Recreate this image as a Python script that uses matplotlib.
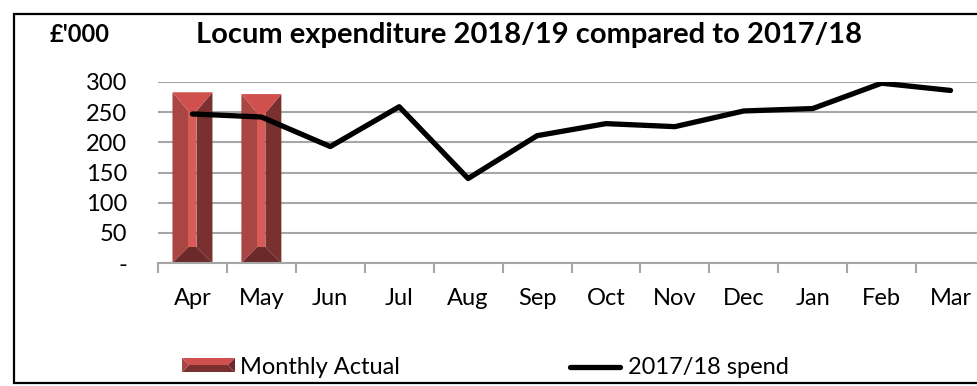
import matplotlib
matplotlib.use("Agg")
import matplotlib.pyplot as plt
from matplotlib.patches import Polygon, Rectangle
import numpy as np

plt.rcParams['font.family'] = ['Lato', 'DejaVu Sans']

months = ['Apr', 'May', 'Jun', 'Jul', 'Aug', 'Sep', 'Oct', 'Nov', 'Dec', 'Jan', 'Feb', 'Mar']
actual_1819 = [283, 280]
spend_1718 = [247, 242, 193, 259, 140, 211, 231, 226, 252, 256, 298, 286]
yticks = [0, 50, 100, 150, 200, 250, 300]
ytick_labels = ['-', '50', '100', '150', '200', '250', '300']

# bevel colours for the "Monthly Actual" bars
TOP = '#D0504E'
LEFT = '#A94543'
RIGHT = '#7A302F'
BOTTOM = '#6B2A29'
FACE = '#D85B58'
GRID = '#A6A6A6'
FS = 17

W, H = 977, 386
fig = plt.figure(figsize=(W / 100, H / 100), dpi=100)

# main plot area (runs past the right edge of the image)
ax = fig.add_axes([158 / W, (H - 263) / H, (985 - 158) / W, 181 / H])
ax.set_xlim(-0.5, 11.5)
ax.set_ylim(0, 300)
for s in ['left', 'right', 'top']:
    ax.spines[s].set_visible(False)
ax.spines['bottom'].set_color(GRID)
ax.spines['bottom'].set_linewidth(1.5)

ax.set_yticks(yticks)
ax.set_yticklabels(ytick_labels)
ax.yaxis.grid(True, color=GRID, linewidth=1.5)
ax.set_axisbelow(True)
ax.tick_params(axis='y', length=0, pad=22, labelsize=FS)

ax.set_xticks(np.arange(len(months)))
ax.set_xticklabels(months)
ax.set_xticks(np.arange(-0.5, len(months), 1.0), minor=True)
ax.tick_params(axis='x', which='major', length=0, pad=18, labelsize=FS)
ax.tick_params(axis='x', which='minor', length=7, width=1.5, color=GRID, direction='out')

# beveled bars
bw = 0.58
bx = 0.232       # side bevel width in x units
bt = 31.5        # top bevel depth in y units
bb = 26.5        # bottom bevel depth in y units
for i, v in enumerate(actual_1819):
    x0, x1 = i - bw / 2, i + bw / 2
    faces = [
        ([(x0, 0), (x0, v), (x0 + bx, v - bt), (x0 + bx, bb)], LEFT),
        ([(x1, 0), (x1, v), (x1 - bx, v - bt), (x1 - bx, bb)], RIGHT),
        ([(x0, 0), (x1, 0), (x1 - bx, bb), (x0 + bx, bb)], BOTTOM),
        ([(x0, v), (x1, v), (x1 - bx, v - bt), (x0 + bx, v - bt)], TOP),
    ]
    for pts, c in faces:
        ax.add_patch(Polygon(pts, closed=True, facecolor=c, edgecolor='none', zorder=2))
    ax.add_patch(Rectangle((x0 + bx, bb), bw - 2 * bx, v - bt - bb,
                           facecolor=FACE, edgecolor='none', zorder=2))

ax.plot(np.arange(len(months)), spend_1718, color='black', linewidth=3.8,
        solid_capstyle='round', solid_joinstyle='round', zorder=3)

# overlay in pixel coordinates for border, titles and legend
ov = fig.add_axes([0, 0, 1, 1], zorder=-1)
ov.set_xlim(0, W)
ov.set_ylim(H, 0)
ov.axis('off')
ov.add_patch(Rectangle((14, 14), W + 20, 369, facecolor='white',
                       edgecolor='black', linewidth=1.6))
ov.text(50, 35, "£'000", fontsize=17, fontweight='bold', va='center', ha='left')
ov.text(529, 35, 'Locum expenditure 2018/19 compared to 2017/18',
        fontsize=21, fontweight='bold', va='center', ha='center')

lg = fig.add_axes([0, 0, 1, 1])
lg.set_xlim(0, W)
lg.set_ylim(H, 0)
lg.axis('off')
px0, px1, py0, py1 = 182, 235, 358, 372
pm = (py0 + py1) / 2
lg.add_patch(Polygon([(px0, py0), (px1, py0), (px1 - 7, pm), (px0 + 7, pm)], facecolor=TOP, edgecolor='none'))
lg.add_patch(Polygon([(px0, py1), (px1, py1), (px1 - 7, pm), (px0 + 7, pm)], facecolor=RIGHT, edgecolor='none'))
lg.add_patch(Polygon([(px0, py0), (px0 + 7, pm), (px0, py1)], facecolor=LEFT, edgecolor='none'))
lg.add_patch(Polygon([(px1, py0), (px1 - 7, pm), (px1, py1)], facecolor=BOTTOM, edgecolor='none'))
lg.text(240, 367, 'Monthly Actual', fontsize=FS, va='center', ha='left')
lg.plot([570, 620], [367, 367], color='black', linewidth=3.8, solid_capstyle='round')
lg.text(628, 367, '2017/18 spend', fontsize=FS, va='center', ha='left')

fig.savefig('out.png', dpi=100)
